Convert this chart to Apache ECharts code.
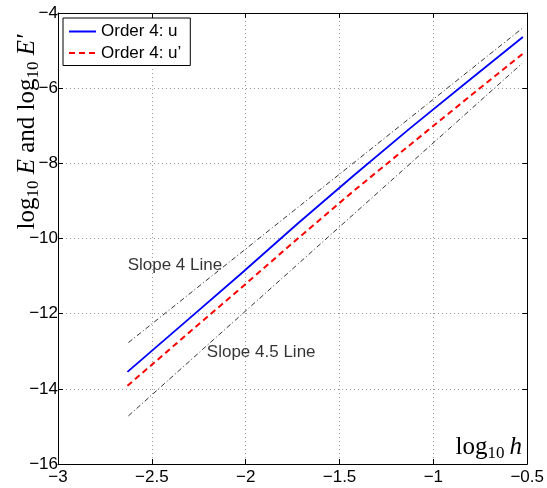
<!DOCTYPE html>
<html>
<head>
<meta charset="utf-8">
<script src="https://cdn.jsdelivr.net/npm/echarts@6/dist/echarts.min.js"></script>
<style>
html,body{margin:0;padding:0;background:#fff;}
#chart{width:547px;height:488px;}
</style>
</head>
<body>
<div id="chart"></div>
<script>
// ---- data ----
const logH = [-2.630, -2.329, -2.028, -1.727, -1.426, -1.125, -0.824, -0.523];
const errU = [-13.55, -12.25, -10.95, -9.62, -8.33, -7.07, -5.85, -4.64];
const errDU = [-13.92, -12.62, -11.33, -10.02, -8.74, -7.51, -6.29, -5.08];
const refX = [-2.625, -0.527];
const slope4Y = [-12.77, -4.41];
const slope45Y = [-14.72, -5.34];
const annoText = ['Slope 4 Line', 'Slope 4.5 Line'];
const annoX = [-2.629, -2.207];
const annoY = [-10.72, -13.03];
const seriesNames = ['Order 4: u', 'Order 4: u\u2019'];
const xTicks = {min: -3, max: -0.5, interval: 0.5};
const yTicks = {min: -16, max: -4, interval: 2};

const pairs = (xs, ys) => xs.map((x, i) => [x, ys[i]]);
const minus = v => String(v).replace('-', '\u2212');

const sansFont = '"Liberation Sans", Arial, Helvetica, sans-serif';
const serifFont = '"Liberation Serif", "Times New Roman", serif';

const chart = echarts.init(document.getElementById('chart'), null, {renderer: 'canvas'});

const tickLabel = {color: '#000', fontSize: 17, fontFamily: sansFont};
const axisLine = {show: true, lineStyle: {color: '#000', width: 1}};
const axisTick = {show: true, inside: true, length: 5, lineStyle: {color: '#000', width: 1}};

const rich = {
  r: {fontFamily: serifFont, fontSize: 25, lineHeight: 30, color: '#000'},
  i: {fontFamily: serifFont, fontSize: 25, fontStyle: 'italic', lineHeight: 30, color: '#000'},
  s: {fontFamily: serifFont, fontSize: 17, lineHeight: 17, verticalAlign: 'bottom', color: '#000'}
};

const option = {
  animation: false,
  backgroundColor: '#fff',
  grid: {left: 58, right: 19, top: 13, bottom: 24, containLabel: false},
  xAxis: [
    {type: 'value', position: 'bottom', min: xTicks.min, max: xTicks.max, interval: xTicks.interval,
     axisLine: axisLine, axisTick: axisTick,
     axisLabel: Object.assign({margin: 5, formatter: minus}, tickLabel),
     splitLine: {show: true, lineStyle: {color: '#9a9a9a', width: 1, type: [1, 3]}}},
    {type: 'value', position: 'top', min: xTicks.min, max: xTicks.max, interval: xTicks.interval,
     axisLine: axisLine, axisTick: axisTick, axisLabel: {show: false}, splitLine: {show: false}}
  ],
  yAxis: [
    {type: 'value', position: 'left', min: yTicks.min, max: yTicks.max, interval: yTicks.interval,
     axisLine: axisLine, axisTick: axisTick,
     axisLabel: Object.assign({margin: 0, formatter: minus}, tickLabel),
     splitLine: {show: true, lineStyle: {color: '#9a9a9a', width: 1, type: [1, 3]}}},
    {type: 'value', position: 'right', min: yTicks.min, max: yTicks.max, interval: yTicks.interval,
     axisLine: axisLine, axisTick: axisTick, axisLabel: {show: false}, splitLine: {show: false}}
  ],
  legend: {
    data: seriesNames,
    orient: 'vertical', left: 63, top: 18,
    padding: [5, 9, 4, 5], itemGap: 4.5, itemWidth: 27, itemHeight: 14,
    borderColor: '#000', borderWidth: 1, borderRadius: 0, backgroundColor: '#fff',
    itemStyle: {color: 'transparent', borderWidth: 0, opacity: 0},
    textStyle: {color: '#000', fontSize: 17, fontFamily: sansFont},
    selectedMode: false
  },
  series: [
    {name: 'slope4', type: 'line', data: pairs(refX, slope4Y), symbol: 'none', silent: true,
     lineStyle: {color: '#000', width: 0.8, type: [5, 2.5, 1, 2.5]}, z: 1},
    {name: 'slope45', type: 'line', data: pairs(refX, slope45Y), symbol: 'none', silent: true,
     lineStyle: {color: '#000', width: 0.8, type: [5, 2.5, 1, 2.5]}, z: 1},
    {name: seriesNames[0], type: 'line', data: pairs(logH, errU), symbol: 'none',
     itemStyle: {color: '#0000ff'}, lineStyle: {color: '#0000ff', width: 1.8, type: 'solid'}, z: 3},
    {name: seriesNames[1], type: 'line', data: pairs(logH, errDU), symbol: 'none',
     itemStyle: {color: '#ff0000'}, lineStyle: {color: '#ff0000', width: 2, type: [6, 4]}, z: 3},
    {name: 'annotations', type: 'scatter', symbolSize: 0, silent: true,
     data: annoText.map((t, i) => ({name: t, value: [annoX[i], annoY[i]]})),
     label: {show: true, position: 'right', distance: 0, formatter: p => p.name,
             color: '#000', fontSize: 17, fontFamily: sansFont}, z: 4}
  ],
  graphic: [
    {type: 'text', x: 27, y: 132, rotation: Math.PI / 2,
     style: {text: '{r|log}{s|10}{i| E}{r| and log}{s|10}{i| E\u2032}', rich: rich, align: 'center', verticalAlign: 'middle'}},
    {type: 'text', x: 522, y: 447,
     style: {text: '{r|log}{s|10}{i|\u2009h}', rich: rich, align: 'right', verticalAlign: 'middle'}}
  ]
};
chart.setOption(option);
</script>
</body>
</html>
